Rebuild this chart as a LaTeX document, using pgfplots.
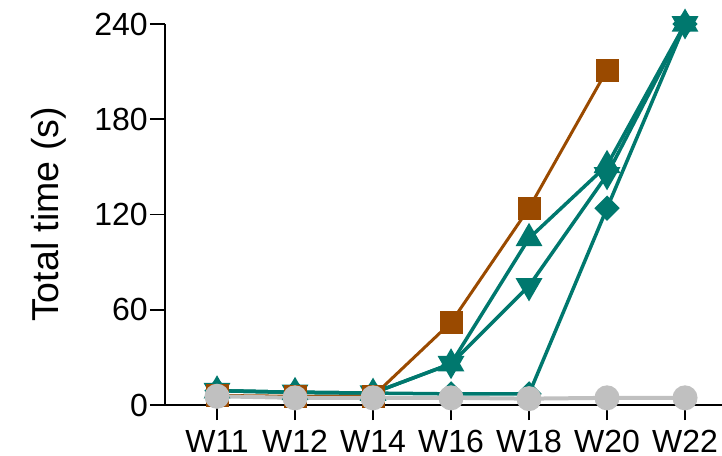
\documentclass[border=0pt]{standalone}
\usepackage{pgfplots}
\pgfplotsset{compat=1.18}
\usepackage{fontspec}
\setmainfont{Liberation Sans}
\definecolor{rust}{HTML}{9A4A00}
\definecolor{teal2}{HTML}{00786E}
\definecolor{lgray}{HTML}{C0C0C0}

\begin{document}
\begin{tikzpicture}
\useasboundingbox (-165bp,-51bp) rectangle (557bp,405bp);
\begin{axis}[
    at={(0,0)}, anchor=south west,
    width=557bp, height=381bp, scale only axis,
    xmin=-0.667, xmax=6.474,
    ymin=0, ymax=240,
    ytick={0,60,120,180,240},
    xtick={0,...,6},
    xticklabels={W11,W12,W14,W16,W18,W20,W22},
    axis lines=left,
    axis line style={line width=1.6bp, -},
    tick style={line width=1.6bp, black},
    tick align=outside,
    major tick length=15bp,
    tick label style={font=\fontsize{32bp}{34bp}\selectfont, inner sep=2bp},
    /pgf/number format/assume math mode=true,
    xticklabel style={yshift=-8bp},
    every axis y label/.style={at={(axis description cs:0,0.5)}, xshift=-116bp, rotate=90, anchor=center},
    ylabel={\fontsize{37.5bp}{40bp}\selectfont Total time (s)},
    clip=false,
]
\addplot[teal2, line width=3.5bp, mark=square*, mark size=7.2bp, mark options={solid, rotate=45}] coordinates {(0,9)(1,8)(2,7.5)(3,7)(4,7)(5,124)(6,240)};
\addplot[teal2, line width=3.5bp, mark=triangle*, mark size=12bp, mark options={solid, rotate=180}] coordinates {(0,9)(1,8)(2,7.5)(3,26)(4,75)(5,145)(6,240)};
\addplot[teal2, line width=3.5bp, mark=triangle*, mark size=12bp, mark options={solid}] coordinates {(0,9)(1,8)(2,7.5)(3,26)(4,105)(5,151)(6,240)};
\addplot[rust, line width=3bp, mark=square*, mark size=10bp, mark options={solid}] coordinates {(0,6)(1,5.5)(2,5.5)(3,52)(4,124)(5,211)};
\addplot[lgray, line width=4bp, mark=*, mark size=10.5bp, mark options={solid}] coordinates {(0,5.5)(1,4.5)(2,4.5)(3,4.5)(4,4)(5,4.5)(6,4.5)};
\end{axis}
\end{tikzpicture}
\end{document}
